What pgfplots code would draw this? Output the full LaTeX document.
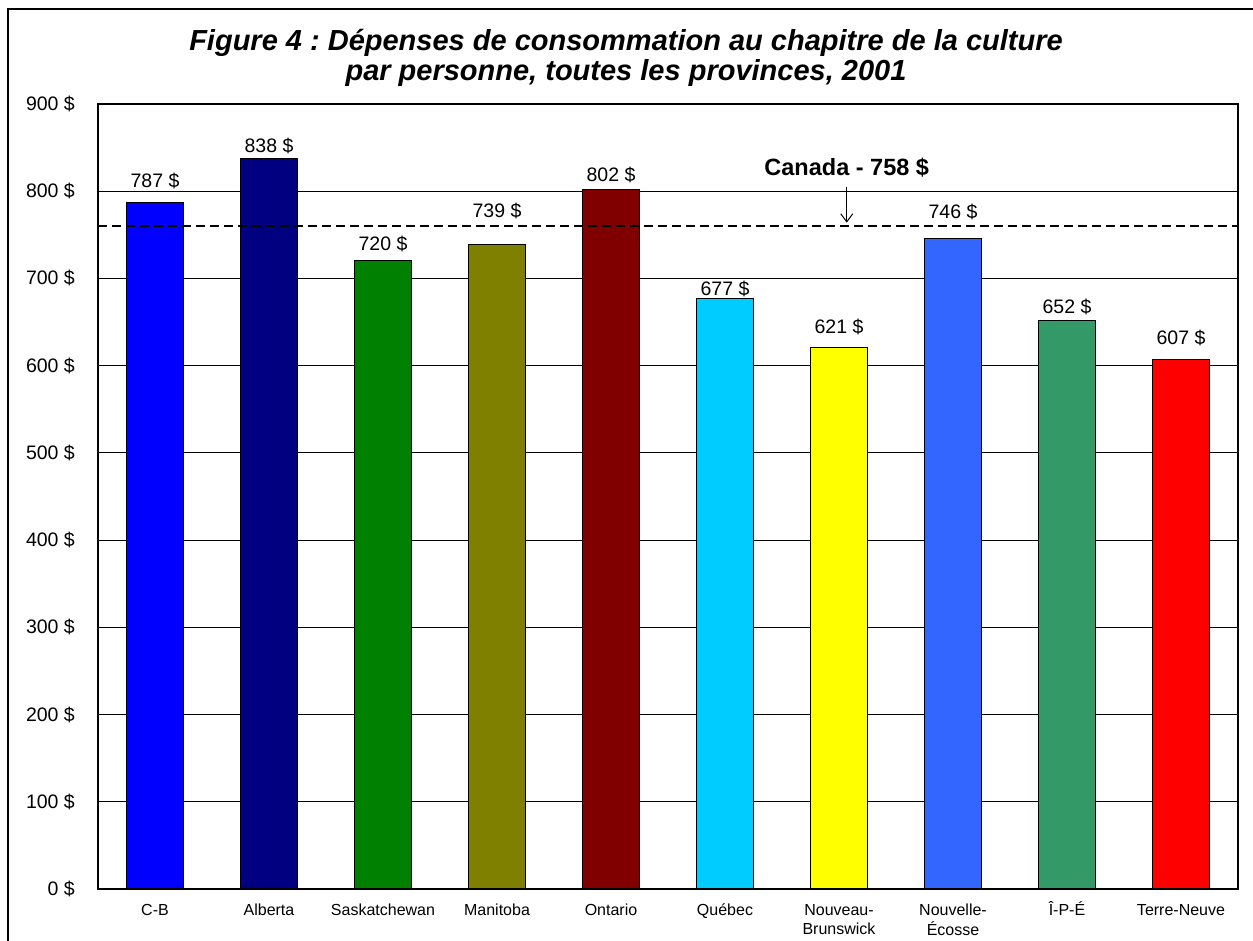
\documentclass[border=0pt]{standalone}
\usepackage{pgfplots}
\pgfplotsset{compat=1.18}
\usepackage{pgfplotstable}
\usepackage{fontspec}
\setmainfont{Liberation Sans}
\frenchspacing
\usetikzlibrary{arrows.meta}
\definecolor{cCB}{HTML}{0000FF}
\definecolor{cAB}{HTML}{000080}
\definecolor{cSK}{HTML}{008000}
\definecolor{cMB}{HTML}{808000}
\definecolor{cON}{HTML}{800000}
\definecolor{cQC}{HTML}{00CCFF}
\definecolor{cNB}{HTML}{FFFF00}
\definecolor{cNS}{HTML}{3366FF}
\definecolor{cPE}{HTML}{339966}
\definecolor{cNL}{HTML}{FF0000}
\pgfplotsset{mybar/.style={ybar, bar width=57bp, bar shift=0pt, draw=black, line width=1bp, fill=#1}}
\pgfplotstableread{
x v ly
0 787 804.5
1 838 844.2
2 720 731.8
3 739 770.1
4 802 811.0
5 677 681.0
6 621 637.1
7 746 769.0
8 652 660.0
9 607 623.7
}\barlabels
\begin{document}
\begin{tikzpicture}[x=1bp,y=1bp]
\useasboundingbox (0,0) rectangle (1253,941);
\draw[line width=2bp] (8,932) rectangle (1275,-20);
\node[anchor=base, inner sep=0pt, font=\fontsize{29bp}{32bp}\selectfont\bfseries\itshape] at (626,890) {Figure 4 : Dépenses de consommation au chapitre de la culture};
\node[anchor=base, inner sep=0pt, font=\fontsize{29bp}{32bp}\selectfont\bfseries\itshape] at (626,860) {par personne, toutes les provinces, 2001};
\begin{axis}[
  at={(98bp,52bp)}, anchor=south west,
  width=1140bp, height=785bp, scale only axis,
  xmin=-0.5, xmax=9.5, ymin=0, ymax=900,
  /pgf/number format/assume math mode=true,
  axis line style={line width=1.2bp, black},
  ytick={0,100,...,900},
  yticklabel={\pgfmathprintnumber{\tick}~\$},
  yticklabel style={font=\fontsize{19.5bp}{22bp}\selectfont, inner sep=0pt, anchor=east, xshift=-23bp},
  ytick style={draw=none},
  ymajorgrids, grid style={black, line width=1bp},
  xtick={0,...,9},
  xticklabels={C-B, Alberta, Saskatchewan, Manitoba, Ontario, Québec, Nouveau-\\Brunswick, Nouvelle-\\Écosse, Î-P-É, Terre-Neuve},
  typeset ticklabels with strut,
  xticklabel style={font=\fontsize{16bp}{19bp}\selectfont, align=center, inner sep=0pt, anchor=north, yshift=-12.7bp},
  xtick style={draw=none},
  extra x ticks={-0.5,0.5,...,9.5},
  extra x tick labels={},
  extra x tick style={tick style={draw=black, line width=1bp}, tick align=outside, major tick length=6bp, xmajorgrids=false},
  clip=false,
]
\addplot[mybar=cCB] coordinates {(0,787)};
\addplot[mybar=cAB] coordinates {(1,838)};
\addplot[mybar=cSK] coordinates {(2,720)};
\addplot[mybar=cMB] coordinates {(3,739)};
\addplot[mybar=cON] coordinates {(4,802)};
\addplot[mybar=cQC] coordinates {(5,677)};
\addplot[mybar=cNB] coordinates {(6,621)};
\addplot[mybar=cNS] coordinates {(7,746)};
\addplot[mybar=cPE] coordinates {(8,652)};
\addplot[mybar=cNL] coordinates {(9,607)};
\addplot[draw=none, mark=none, point meta=explicit,
  nodes near coords={\pgfmathprintnumber{\pgfplotspointmeta}~\$},
  every node near coord/.append style={anchor=base, inner sep=0pt, font=\fontsize{19.5bp}{22bp}\selectfont}]
  table[x=x, y=ly, meta=v] {\barlabels};
\addplot[black, line width=2bp, dash pattern=on 9bp off 5bp] coordinates {(-0.5,760) (9.5,760)};
\node[anchor=base, inner sep=0pt, font=\fontsize{23.5bp}{27bp}\selectfont\bfseries] at (axis cs:6.068,817.5) {Canada - 758 \$};
\draw[-{Straight Barb[length=8bp,width=12bp]}, line width=1bp] (axis cs:6.068,805) -- (axis cs:6.068,764);
\end{axis}
\end{tikzpicture}
\end{document}
